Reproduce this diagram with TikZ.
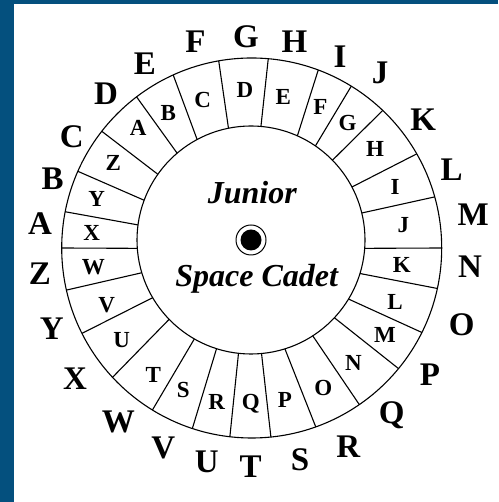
\documentclass[tikz,border=0pt]{standalone}
\usepackage{fontspec}
\setmainfont{Liberation Serif}
\usepackage{tikz}
\definecolor{frameblue}{RGB}{4,80,126}

\begin{document}
\begin{tikzpicture}[
    x=1pt, y=1pt,
    ringline/.style={draw=black, line width=1.1pt},
    rimletter/.style={inner sep=0pt, font=\fontsize{33}{33}\selectfont\bfseries},
    dialletter/.style={inner sep=0pt, font=\fontsize{23}{23}\selectfont\bfseries},
    centertext/.style={inner sep=0pt, anchor=base, font=\fontsize{32}{32}\selectfont\bfseries\itshape}
]
\useasboundingbox (0,0) rectangle (498,502);

% Frame
\fill[white] (0,0) rectangle (498,502);
\fill[frameblue] (0,0) rectangle (14,502);
\fill[frameblue] (0,498) rectangle (498,502);

% Wheel centres
\coordinate (outerc) at (251.7,254);
\coordinate (innerc) at (251,262);

% Rings
\draw[ringline] (outerc) circle (190);
\draw[ringline] (innerc) circle (114);

% Dividers between the dial letters
\foreach \ao/\ai in {100/101.4, 85/85, 69.5/66, 58.4/55.6, 46.4/44.4,
    29.7/27.7, 15.6/13.7, 0/-4.2, -12.3/-17.1, -26.4/-31.2, -39.4/-43,
    -55.5/-57.2, -70.3/-72.7, -84.2/-84.7, -96.6/-96.3, -108.2/-107.6,
    -121.5/-119.8, -137.1/-135.9, -153.3/-149.6, -167.2/-163.3,
    180/184.2, 169/172.4, 156.2/159.6, 142.1/144.8, 127.3/130.4, 114.4/118.2}
  \draw[ringline] ([shift={(\ao:190)}]outerc) -- ([shift={(\ai:114)}]innerc);

% Dial letters (inner ring)
\foreach \l/\x/\y in {A/138.3/373.7, B/168.3/388.7, C/202.7/402, D/245/412,
    E/283.3/404.7, F/320.5/395.5, G/347.5/379, H/375/353, I/395/315.3,
    J/403.3/277, K/401.7/237, L/395/200.3, M/385/167, N/353.3/138.7,
    O/323.3/113.7, P/285/102, Q/250.7/98.7, R/216.7/100.3, S/183.3/112,
    T/153.3/127, U/121.7/162, V/106.7/197, W/93.3/235.3, X/91.7/268.7,
    Y/96.7/302.7, Z/113.3/338.7}
  \node[dialletter] (dial\l) at (\x,\y) {\l};

% Rim letters (outside)
\foreach \l/\x/\y in {A/40/278.7, B/52.7/323.7, C/71.7/365.3, D/106/408,
    E/145/438, F/195.5/460.5, G/246/465, H/294.5/460.5, I/340/445.3,
    J/380/428.7, K/423.3/382, L/451.7/332, M/473.3/287, N/470/235.3,
    O/461.7/177, P/430/127, Q/391.7/87, R/348.3/55.3, S/300/42,
    T/250.7/35.3, U/206.7/40.3, V/163.3/53.7, W/118.3/80.3, X/75/123.7,
    Y/51.7/173.7, Z/40/228.7}
  \node[rimletter] (rim\l) at (\x,\y) {\l};

% Hub
\node[centertext] (junior) at (252.3,298.7) {Junior};
\node[centertext] (cadet) at (256.7,215.3) {Space Cadet};
\fill (innerc) circle (10.5);
\draw[line width=1pt] (innerc) circle (15);

\end{tikzpicture}
\end{document}
